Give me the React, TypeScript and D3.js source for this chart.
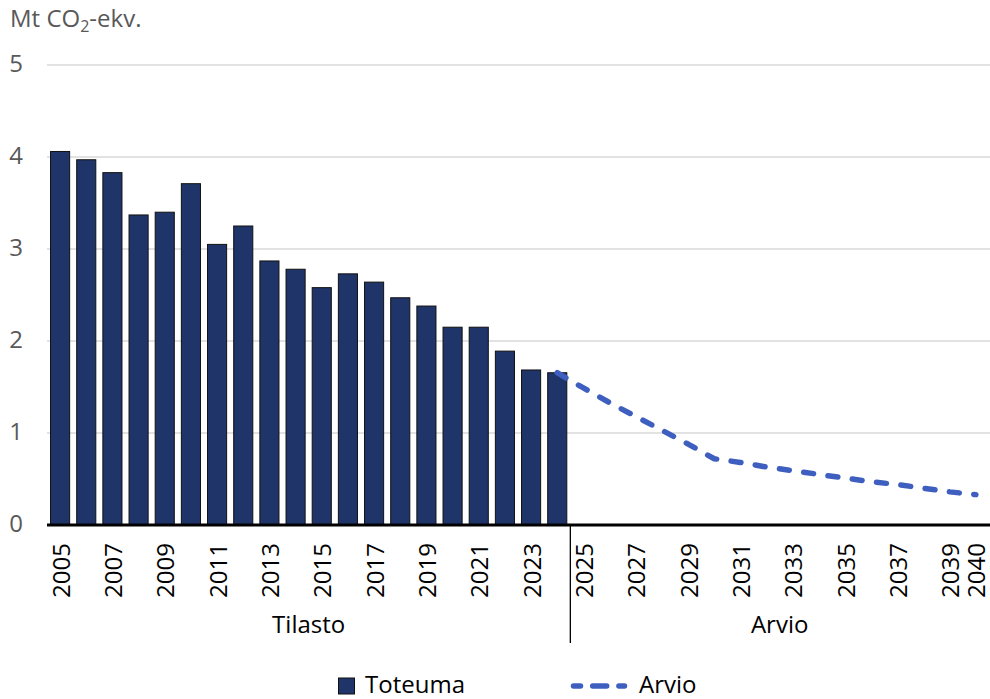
import React from "react";
import * as d3 from "d3";

const histYears = [2005, 2006, 2007, 2008, 2009, 2010, 2011, 2012, 2013, 2014, 2015, 2016, 2017, 2018, 2019, 2020, 2021, 2022, 2023, 2024];
const histValues = [4.06, 3.97, 3.83, 3.37, 3.40, 3.71, 3.05, 3.25, 2.87, 2.78, 2.58, 2.73, 2.64, 2.47, 2.38, 2.15, 2.15, 1.89, 1.685, 1.655];
const projYears = [2024, 2025, 2026, 2027, 2028, 2029, 2030, 2031, 2032, 2033, 2034, 2035, 2036, 2037, 2038, 2039, 2040];
const projValues = [1.655, 1.49, 1.33, 1.18, 1.03, 0.88, 0.72, 0.68, 0.63, 0.59, 0.55, 0.51, 0.47, 0.44, 0.40, 0.36, 0.33];
const allYears = [...histYears, ...projYears.slice(1)];
const tickLabels = ["2005", "2007", "2009", "2011", "2013", "2015", "2017", "2019", "2021", "2023", "2025", "2027", "2029", "2031", "2033", "2035", "2037", "2039", "2040"];
const yTicks = [0, 1, 2, 3, 4, 5];
const groups = [
  { name: "Tilasto", from: 2005, to: 2024 },
  { name: "Arvio", from: 2025, to: 2040 },
];

const W = 990;
const H = 699;
const left = 47;
const right = 989;
const y0 = 525;
const y5 = 65;
const FONT = "'Open Sans', sans-serif";

export default function App() {
  const x = d3
    .scaleBand<number>()
    .domain(allYears)
    .range([left, right])
    .paddingInner(0.27)
    .paddingOuter(0.135);
  const y = d3.scaleLinear().domain([0, 5]).range([y0, y5]);
  const cx = (yr: number) => (x(yr) as number) + x.bandwidth() / 2;
  const line = d3
    .line<number>()
    .x((_, i) => cx(projYears[i]))
    .y((d) => y(d));
  const step = x.step();
  const half = (step - x.bandwidth()) / 2;
  const sepX = (x(2025) as number) - half;

  return (
    <svg
      width={W}
      height={H}
      style={{ position: "absolute", left: 0, top: 0, background: "#fff" }}
      fontFamily={FONT}
    >
      <rect x={0} y={0} width={W} height={H} fill="#fff" />
      {/* title */}
      <text x={10} y={27} fontSize={24} fill="#595959">
        Mt CO
        <tspan fontSize={16} dy={5}>2</tspan>
        <tspan dy={-5}>-ekv.</tspan>
      </text>
      {/* gridlines */}
      {yTicks.map((t) => (
        <g key={t}>
          {t > 0 && (
            <line x1={left} x2={W} y1={y(t)} y2={y(t)} stroke="#d9d9d9" strokeWidth={1.5} />
          )}
          <text x={23} y={y(t) + 7} fontSize={24} fill="#595959" textAnchor="end">
            {t}
          </text>
        </g>
      ))}
      {/* bars */}
      {histYears.map((yr, i) => (
        <rect
          key={yr}
          x={x(yr)}
          y={y(histValues[i])}
          width={x.bandwidth()}
          height={y0 - y(histValues[i])}
          fill="#1f3468"
          stroke="#111"
          strokeWidth={1}
        />
      ))}
      {/* projection line */}
      <path
        d={line(projValues) || ""}
        fill="none"
        stroke="#3f5fc0"
        strokeWidth={5.5}
        strokeDasharray="10 14.5"
        strokeLinecap="round"
        strokeLinejoin="round"
      />
      {/* x axis */}
      <line x1={left} x2={W} y1={y0} y2={y0} stroke="#000" strokeWidth={3} />
      <line x1={sepX} x2={sepX} y1={y0} y2={643} stroke="#000" strokeWidth={1.3} />
      {tickLabels.map((lab) => {
        const c = cx(+lab) + 9.5;
        return (
          <text
            key={lab}
            transform={`translate(${c},${543}) rotate(-90)`}
            fontSize={24}
            fill="#000"
            textAnchor="end"
          >
            {lab}
          </text>
        );
      })}
      {groups.map((g) => {
        const a = (x(g.from) as number) - half;
        const b = (x(g.to) as number) + x.bandwidth() + half;
        return (
          <text key={g.name} x={(a + b) / 2} y={633} fontSize={24} textAnchor="middle" fill="#000">
            {g.name}
          </text>
        );
      })}
      {/* legend */}
      <rect x={338.5} y={678} width={16} height={16} fill="#1f3468" stroke="#111" strokeWidth={1} />
      <text x={365} y={693} fontSize={24} fill="#000">Toteuma</text>
      <line
        x1={573.5}
        x2={624.5}
        y1={686}
        y2={686}
        stroke="#3f5fc0"
        strokeWidth={5.5}
        strokeLinecap="round"
        strokeDasharray="14 12.2"
        strokeDashoffset={7}
      />
      <text x={639} y={693} fontSize={24} fill="#000">Arvio</text>
    </svg>
  );
}
